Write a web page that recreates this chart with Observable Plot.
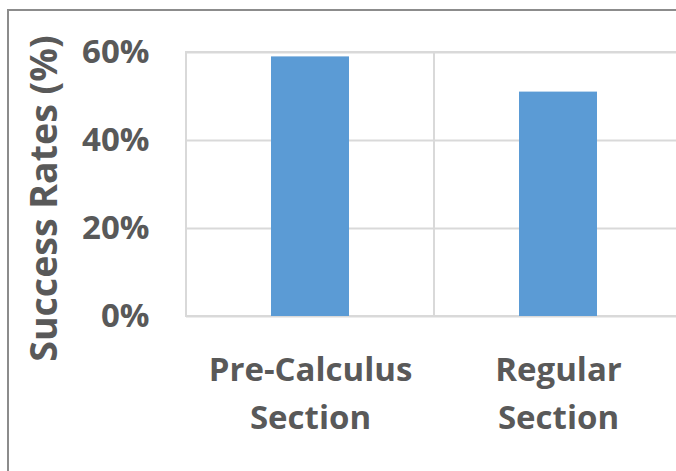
<!DOCTYPE html>
<html>
<head>
<meta charset="utf-8">
<script src="https://cdn.jsdelivr.net/npm/d3@7"></script>
<script src="https://cdn.jsdelivr.net/npm/@observablehq/plot@0.6"></script>
<style>
  html, body { margin: 0; padding: 0; background: #fff; }
  #wrap { position: relative; width: 676px; height: 471px; overflow: hidden; }
  #border { position: absolute; left: 7px; top: 9px; right: -10px; bottom: -10px;
            border-left: 2px solid #8c8c8c; border-top: 2px solid #8c8c8c; pointer-events: none; }
  #chart svg { display: block; }
</style>
</head>
<body>
<div id="wrap"><div id="chart"></div><div id="border"></div></div>
<script>
const categories = ["Pre-Calculus\nSection", "Regular\nSection"];
const successRates = [59, 51];
const yTicks = [0, 20, 40, 60];
const yTitle = "Success Rates (%)";

const data = categories.map((c, i) => ({category: c, rate: successRates[i]}));

const font = "'Open Sans', sans-serif";
const textColor = "#595959";
const gridColor = "#d9d9d9";

const chart = Plot.plot({
  width: 676,
  height: 471,
  marginLeft: 186,
  marginTop: 52,
  marginBottom: 155,
  marginRight: 0,
  style: {fontFamily: font, background: "#fff", overflow: "hidden"},
  x: {domain: categories, range: [186, 682], padding: 0},
  y: {domain: [0, 60]},
  marks: [
    Plot.gridY(yTicks, {stroke: gridColor, strokeOpacity: 1, strokeWidth: 2}),
    Plot.barY(categories, {x: d => d, y1: 0, y2: 60, fill: "none", stroke: gridColor, strokeWidth: 2}),
    Plot.barY(data, {x: "category", y: "rate", fill: "#5b9bd5", insetLeft: 85, insetRight: 85}),
    Plot.axisY(yTicks, {tickSize: 0, tickPadding: 37, tickFormat: d => d + "%", label: null,
      fontSize: 33, fontWeight: 700, fill: textColor}),
    Plot.axisX({tickSize: 0, tickPadding: 31, label: null, fontSize: 33, fontWeight: 700,
      fill: textColor, lineHeight: 1.45}),
    Plot.text([yTitle], {text: d => d, frameAnchor: "left", textAnchor: "middle", rotate: -90, dx: -142, dy: 14,
      fontSize: 37.5, fontWeight: 700, fill: textColor, lineAnchor: "middle"})
  ]
});
document.getElementById("chart").appendChild(chart);
</script>
</body>
</html>
